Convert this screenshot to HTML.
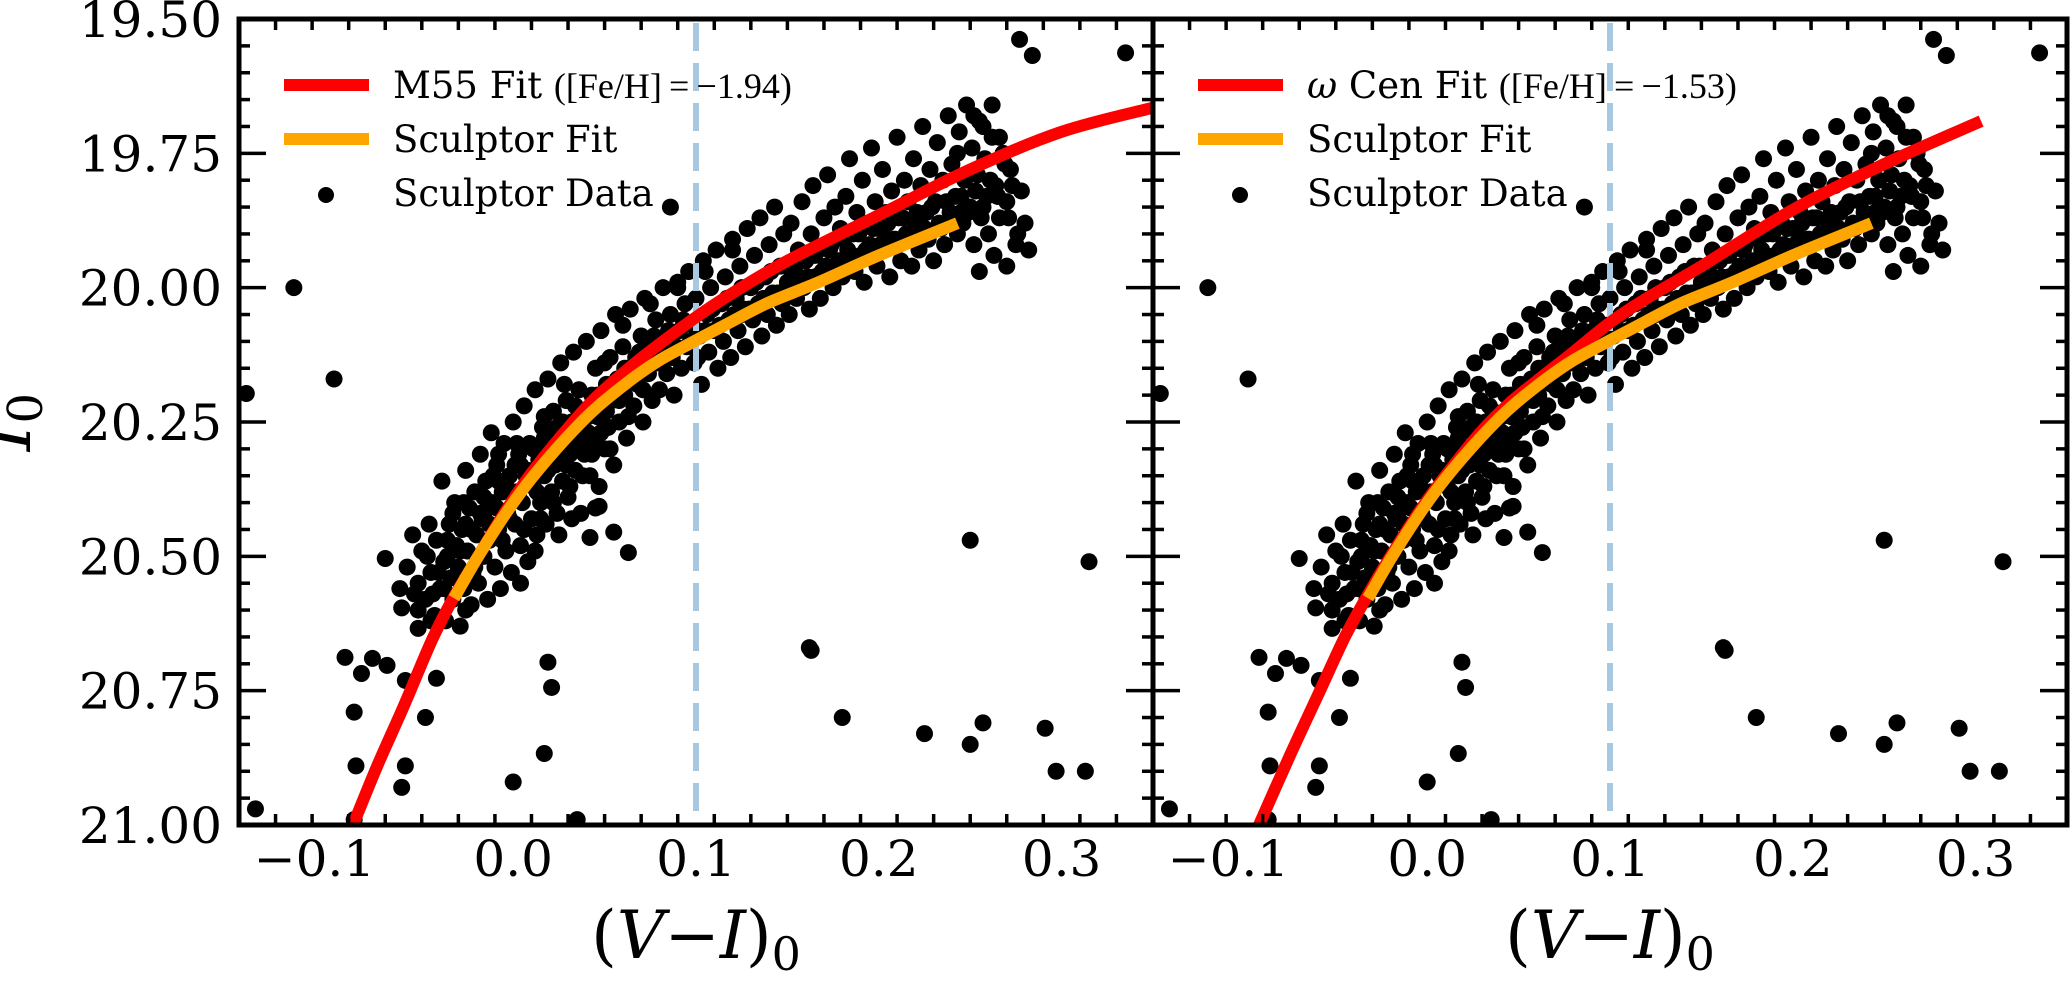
<!DOCTYPE html>
<html><head><meta charset="utf-8">
<style>
html,body{margin:0;padding:0;background:#fff;}
svg{display:block;}
text{font-family:"DejaVu Serif","Liberation Serif",serif;fill:#000;}
</style></head>
<body>
<svg id="chart" width="2070" height="988" viewBox="0 0 2070 988" xmlns="http://www.w3.org/2000/svg">
<defs>
<clipPath id="clipL"><rect x="239" y="19" width="914" height="806"/></clipPath>
<clipPath id="clipR"><rect x="1153" y="19" width="914" height="806"/></clipPath>
</defs>
<g id="panelL"></g>
<g id="panelR"></g>
<text x="30" y="422" font-size="70" font-style="italic" text-anchor="middle" transform="rotate(-90 30 422)">I<tspan font-size="48" font-style="normal" dy="12">0</tspan></text>
</svg>
<script>
// ---- data ----
const xTicks = [-0.1, 0.0, 0.1, 0.2, 0.3];
const xTickLabels = ["\u22120.1", "0.0", "0.1", "0.2", "0.3"];
const yTicks = [19.5, 19.75, 20.0, 20.25, 20.5, 20.75, 21.0];
const yTickLabels = ["19.50", "19.75", "20.00", "20.25", "20.50", "20.75", "21.00"];
const vLineX = 0.1;

const m55FitX = [-0.09,-0.075,-0.06,-0.045,-0.0335,-0.02,-0.004,0.01,0.029,0.045,0.065,0.08,0.1,0.12,0.15,0.2,0.25,0.3,0.35];
const m55FitI = [21.02,20.895,20.78,20.66,20.582,20.505,20.415,20.345,20.265,20.205,20.145,20.105,20.055,20.01,19.95,19.865,19.78,19.71,19.665];
const omegaFitX = [-0.092,-0.075,-0.06,-0.045,-0.033,-0.02,-0.004,0.01,0.029,0.045,0.065,0.08,0.1,0.12,0.15,0.2,0.25,0.303];
const omegaFitI = [21.0,20.87,20.76,20.65,20.575,20.50,20.415,20.35,20.27,20.215,20.16,20.12,20.065,20.02,19.96,19.855,19.77,19.69];
const sclFitX = [-0.0324,-0.02,-0.004,0.01,0.029,0.045,0.065,0.08,0.1,0.12,0.139,0.167,0.2,0.243];
const sclFitI = [20.578,20.505,20.42,20.355,20.28,20.225,20.17,20.135,20.098,20.062,20.029,19.99,19.94,19.88];

const sclDataX = [0.277,0.284,0.335,-0.146,-0.12,-0.098,-0.092,-0.083,-0.069,-0.059,-0.042,-0.048,-0.086,-0.059,0.019,0.021,0.017,0.163,-0.07,-0.052,-0.061,0.063,0.055,0.042,0.047,-0.141,0.0,0.035,0.162,0.18,0.225,0.25,0.257,0.25,0.291,0.297,0.313,0.315,-0.077,-0.087,-0.061,-0.087,0.086,
-0.058,-0.055,-0.052,-0.05,-0.048,-0.046,-0.045,-0.043,-0.042,-0.04,-0.039,-0.038,-0.037,-0.035,-0.034,-0.033,-0.032,-0.031,-0.03,-0.029,-0.028,-0.027,-0.026,-0.025,-0.024,-0.023,-0.022,-0.021,-0.02,-0.019,-0.018,-0.017,-0.016,-0.015,-0.014,-0.013,-0.012,-0.011,-0.01,-0.009,-0.008,-0.007,-0.006,-0.005,-0.004,-0.003,-0.002,-0.001,0.0,0.001,0.002,0.003,0.004,0.005,0.006,0.007,0.008,0.009,0.01,0.011,0.012,0.013,0.014,0.015,0.016,0.017,0.018,0.019,0.02,0.021,0.022,0.023,0.024,0.025,0.026,0.027,0.028,0.029,0.03,0.031,0.032,0.033,0.034,0.035,0.036,0.037,0.038,0.039,0.04,0.041,0.042,0.043,0.044,0.045,0.046,0.047,0.048,0.049,0.05,0.051,0.052,0.053,0.054,0.055,0.056,0.057,0.058,0.06,0.061,0.062,0.063,0.064,0.066,0.067,0.068,0.07,0.071,0.072,0.074,0.075,0.076,0.078,0.079,0.08,0.082,0.083,0.084,0.086,0.087,0.088,0.09,0.091,0.092,0.094,0.095,0.096,0.098,0.099,0.1,0.102,0.103,0.104,0.106,0.107,0.108,0.11,0.111,0.112,0.114,0.115,0.116,0.118,0.119,0.12,0.122,0.123,0.124,0.126,0.127,0.128,0.13,0.131,0.132,0.134,0.135,0.136,0.138,0.139,0.14,0.142,0.143,0.144,0.146,0.147,0.148,0.15,0.151,0.152,0.154,0.155,0.156,0.158,0.159,0.16,0.162,0.163,0.164,0.166,0.167,0.168,0.17,0.171,0.172,0.174,0.175,0.176,0.178,0.179,0.18,0.182,0.183,0.184,0.186,0.187,0.188,0.19,0.191,0.192,0.194,0.195,0.196,0.198,0.199,0.2,0.202,0.203,0.204,0.206,0.207,0.208,0.21,0.211,0.212,0.214,0.215,0.216,0.218,0.219,0.22,0.222,0.223,0.224,0.226,0.227,0.228,0.23,0.231,0.232,0.234,0.235,0.236,0.238,0.239,0.24,0.242,0.243,0.244,0.246,0.247,0.248,0.25,0.251,0.252,0.254,0.255,0.256,0.258,0.259,0.26,0.262,0.264,0.266,0.268,0.27,0.272,0.275,0.278,0.28,
-0.044,-0.036,-0.026,-0.016,-0.008,0.004,0.012,0.024,0.036,0.052,0.068,0.085,0.105,0.125,0.145,0.165,0.185,0.205,0.225,0.245,0.265,
-0.047,-0.041,-0.036,-0.033,-0.029,-0.027,-0.023,-0.021,-0.018,-0.016,-0.013,-0.011,-0.009,-0.006,-0.004,-0.002,0.001,0.003,0.006,0.008,0.011,0.013,0.015,0.017,0.019,0.022,0.024,0.027,0.029,0.031,0.034,0.036,0.038,0.041,0.043,0.046,0.048,0.051,0.053,0.056,0.058,0.061,0.063,0.066,0.069,0.071,0.073,0.077,0.081,0.085,0.089,0.093,0.097,0.101,0.105,0.109,0.113,0.117,0.121,0.125,0.129,0.133,0.137,0.141,0.145,0.149,0.153,0.157,0.161,0.165,0.169,0.173,0.177,0.181,0.185,0.189,0.193,0.197,0.201,0.205,0.209,0.213,0.217,0.221,0.225,0.229,0.233,0.237,0.241,0.245,0.249,0.253,0.257,0.261,0.265,0.269,0.273,0.257,0.262,0.252,0.266,0.243,0.271,0.276,0.282,0.27,0.255,0.263,-0.052,-0.045,-0.038,-0.026,-0.062,-0.054,0.004,0.012,0.025,0.032,0.045,0.002,-0.008,0.017,0.028,0.05,0.06,0.075,0.09,0.105,0.12];
const sclDataI = [19.538,19.568,19.563,20.197,20.0,20.17,20.688,20.718,20.703,20.731,20.727,20.80,20.89,20.89,20.697,20.744,20.867,20.675,20.504,20.634,20.596,20.493,20.455,20.465,20.407,20.97,20.92,20.99,20.67,20.80,20.83,20.85,20.81,20.47,20.82,20.90,20.90,20.51,20.69,20.79,20.93,20.99,19.85,
20.52,20.46,20.55,20.49,20.58,20.44,20.53,20.61,20.47,20.56,20.36,20.51,20.62,20.44,20.54,20.58,20.40,20.48,20.52,20.63,20.45,20.56,20.34,20.49,20.41,20.59,20.53,20.38,20.46,20.55,20.31,20.43,20.50,20.36,20.58,20.47,20.27,20.40,20.52,20.33,20.45,20.56,20.38,20.29,20.49,20.42,20.35,20.53,20.25,20.44,20.38,20.31,20.48,20.40,20.22,20.35,20.51,20.29,20.43,20.37,20.19,20.46,20.32,20.40,20.26,20.35,20.44,20.17,20.30,20.38,20.23,20.33,20.42,20.27,20.14,20.36,20.29,20.21,20.39,20.31,20.25,20.12,20.34,20.28,20.19,20.42,20.24,20.31,20.10,20.27,20.35,20.20,20.29,20.15,20.24,20.37,20.08,20.22,20.30,20.18,20.26,20.13,20.21,20.33,20.05,20.17,20.25,20.11,20.20,20.28,20.15,20.04,20.22,20.13,20.18,20.09,20.25,20.02,20.16,20.11,20.21,20.06,20.14,20.19,20.00,20.10,20.16,20.05,20.13,20.20,19.99,20.08,20.15,20.03,20.11,19.97,20.07,20.14,20.02,20.09,20.18,19.95,20.05,20.12,20.00,20.08,19.93,20.15,20.03,20.10,19.98,20.06,20.13,19.91,20.02,20.08,19.96,20.04,20.11,19.89,20.00,20.06,19.94,20.03,19.87,20.09,19.98,20.05,19.92,20.01,19.85,20.07,19.96,20.03,19.90,19.99,20.05,19.88,19.97,20.02,19.93,19.84,20.00,19.95,20.04,19.90,19.81,19.98,19.93,20.02,19.87,19.96,19.79,19.92,20.00,19.85,19.95,19.89,19.98,19.83,19.93,19.76,19.90,19.97,19.86,19.94,19.80,19.99,19.88,19.92,19.74,19.84,19.96,19.89,19.78,19.93,19.86,19.98,19.82,19.91,19.72,19.87,19.95,19.80,19.90,19.84,19.96,19.76,19.88,19.93,19.81,19.70,19.86,19.91,19.78,19.95,19.84,19.73,19.89,19.80,19.92,19.68,19.86,19.77,19.83,19.90,19.71,19.88,19.80,19.66,19.85,19.74,19.92,19.79,19.69,19.87,19.76,19.83,19.90,19.72,19.81,19.87,19.75,19.84,19.78,19.92,19.82,19.88,
20.57,20.50,20.44,20.42,20.36,20.33,20.30,20.26,20.23,20.19,20.17,20.13,20.08,20.05,20.01,19.98,19.95,19.91,19.89,19.86,19.83,
20.50,20.53,20.47,20.42,20.49,20.40,20.45,20.52,20.42,20.39,20.44,20.35,20.41,20.47,20.36,20.43,20.33,20.39,20.45,20.34,20.30,20.38,20.43,20.28,20.34,20.40,20.31,20.25,20.33,20.37,20.22,20.29,20.35,20.24,20.31,20.20,20.27,20.23,20.30,20.19,20.21,20.15,20.24,20.17,20.12,20.19,20.14,20.09,20.13,20.08,20.11,20.06,20.10,20.13,20.08,20.04,20.07,20.02,20.05,20.00,20.04,19.99,20.02,19.97,20.01,19.96,19.99,19.95,19.98,19.94,19.97,19.93,19.96,19.91,19.94,19.90,19.93,19.89,19.92,19.88,19.91,19.87,19.90,19.86,19.89,19.85,19.88,19.84,19.87,19.83,19.86,19.82,19.85,19.80,19.83,19.77,19.81,19.70,19.66,19.68,19.72,19.75,19.87,19.90,19.93,19.96,19.97,19.94,20.60,20.62,20.56,20.60,20.56,20.57,20.55,20.49,20.46,20.43,20.41,20.29,20.31,20.24,20.18,20.14,20.07,20.03,20.0,19.97,19.93];

const SVGNS = "http://www.w3.org/2000/svg";
const X0 = -0.15, X1 = 0.35, Y0 = 19.5, Y1 = 21.0;
const PW = 914, PT = 19, PB = 825;

function mk(tag, attrs, parent){
  const e = document.createElementNS(SVGNS, tag);
  for (const k in attrs) e.setAttribute(k, attrs[k]);
  parent.appendChild(e);
  return e;
}

function smoothPath(pts){
  let d = 'M' + pts[0][0].toFixed(1) + ',' + pts[0][1].toFixed(1);
  for (let i = 0; i < pts.length - 1; i++){
    const p0 = pts[i - 1] || pts[i], p1 = pts[i], p2 = pts[i + 1], p3 = pts[i + 2] || p2;
    const c1x = p1[0] + (p2[0] - p0[0]) / 6, c1y = p1[1] + (p2[1] - p0[1]) / 6;
    const c2x = p2[0] - (p3[0] - p1[0]) / 6, c2y = p2[1] - (p3[1] - p1[1]) / 6;
    d += ' C' + c1x.toFixed(1) + ',' + c1y.toFixed(1) + ' ' + c2x.toFixed(1) + ',' + c2y.toFixed(1) + ' ' + p2[0].toFixed(1) + ',' + p2[1].toFixed(1);
  }
  return d;
}

function drawPanel(g, left, clipId, fitX, fitI, fitLabel, fitName, showYLabels){
  const sx = v => left + (v - X0) / (X1 - X0) * PW;
  const sy = v => PT + (v - Y0) / (Y1 - Y0) * (PB - PT);
  const right = left + PW;
  const plot = mk('g', {'clip-path': 'url(#' + clipId + ')'}, g);
  
  

  for (let i = 0; i < sclDataX.length; i++){
    const c = mk('circle', {cx: sx(sclDataX[i]), cy: sy(sclDataI[i]), r: 8.5, fill: '#000'}, plot);
    
    
  }
  const vl = mk('line', {x1: sx(vLineX), x2: sx(vLineX), y1: PT, y2: PB, stroke: '#a6c8e0', 'stroke-width': 6, 'stroke-dasharray': '28 12', 'stroke-dashoffset': '-4'}, plot);
  
  
  const pts = (xs, ys) => xs.map((v, i) => [sx(v), sy(ys[i])]);
  const rf = mk('path', {d: smoothPath(pts(fitX, fitI)), fill: 'none', stroke: '#ff0000', 'stroke-width': 12}, plot);
  
  
  const of = mk('path', {d: smoothPath(pts(sclFitX, sclFitI)), fill: 'none', stroke: '#ffa500', 'stroke-width': 12}, plot);
  
  

  const tk = mk('g', {stroke: '#000', 'stroke-width': 3.5}, g);
  
  
  for (let k = 0; k <= 25; k++){
    const v = -0.15 + k * 0.02;
    const major = Math.abs(Math.round(v * 10) - v * 10) < 1e-6;
    const L = major ? 27 : 11;
    const x = sx(v);
    if (x < left + 2 || x > right - 2) continue;
    mk('line', {x1: x, x2: x, y1: PB, y2: PB - L}, tk);
    mk('line', {x1: x, x2: x, y1: PT, y2: PT + L}, tk);
  }
  for (let k = 1; k < 30; k++){
    const v = 19.5 + k * 0.05;
    const major = k % 5 === 0;
    const L = major ? 27 : 11;
    const y = sy(v);
    mk('line', {x1: left, x2: left + L, y1: y, y2: y}, tk);
    mk('line', {x1: right, x2: right - L, y1: y, y2: y}, tk);
  }
  const fr = mk('rect', {x: left, y: PT, width: PW, height: PB - PT, fill: 'none', stroke: '#000', 'stroke-width': 5}, g);
  
  

  xTicks.forEach((v, i) => {
    const t = mk('text', {x: sx(v) - (i === 0 ? 16 : 0), y: 876, 'font-size': 50, 'text-anchor': 'middle'}, g);
    t.textContent = xTickLabels[i];
    
    
  });
  if (showYLabels){
    yTicks.forEach((v, i) => {
      const t = mk('text', {x: 222, y: sy(v) + 18, 'font-size': 50, 'text-anchor': 'end'}, g);
      t.textContent = yTickLabels[i];
      
      
    });
  }
  const xt = mk('text', {x: left + PW / 2, y: 958, 'font-size': 66, 'text-anchor': 'middle', 'font-family': '"Liberation Serif",serif'}, g);
  
  
  xt.innerHTML = '(<tspan font-style="italic">V</tspan>\u2212<tspan font-style="italic">I</tspan>)<tspan font-size="46" dy="12">0</tspan>';

  const lg = mk('g', {}, g);
  
  
  const ox = left + 45;
  const e1 = mk('line', {x1: ox, x2: ox + 85, y1: 85, y2: 85, stroke: '#ff0000', 'stroke-width': 12}, lg);
  
  
  const t1 = mk('text', {x: ox + 109, y: 98, 'font-size': 37}, lg);
  t1.innerHTML = fitLabel;
  
  
  const e2 = mk('line', {x1: ox, x2: ox + 85, y1: 139, y2: 139, stroke: '#ffa500', 'stroke-width': 12}, lg);
  
  
  const t2 = mk('text', {x: ox + 109, y: 152, 'font-size': 37}, lg);
  t2.textContent = 'Sculptor Fit';
  
  
  const e3 = mk('circle', {cx: ox + 42, cy: 195, r: 8, fill: '#000'}, lg);
  
  
  const t3 = mk('text', {x: ox + 109, y: 206, 'font-size': 37}, lg);
  t3.textContent = 'Sculptor Data';
  
  
}

drawPanel(document.getElementById('panelL'), 239, 'clipL', m55FitX, m55FitI,
  'M55 Fit <tspan font-family="Liberation Serif, serif" font-size="36">([Fe/H]\u2009=\u2009\u22121.94)</tspan>', 'm55-fit-line', true);
drawPanel(document.getElementById('panelR'), 1153, 'clipR', omegaFitX, omegaFitI,
  '<tspan font-style="italic">\u03c9</tspan> Cen Fit <tspan font-family="Liberation Serif, serif" font-size="36">([Fe/H]\u2009=\u2009\u22121.53)</tspan>', 'omega-cen-fit-line', false);
</script>
</body></html>
